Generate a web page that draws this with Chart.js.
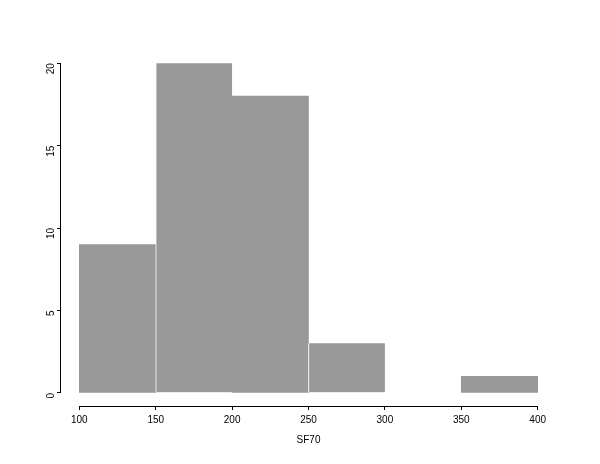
<!DOCTYPE html>
<html>
<head>
<meta charset="utf-8">
<script src="https://cdn.jsdelivr.net/npm/chart.js@4"></script>
<style>
  html, body { margin: 0; padding: 0; background: #fff; }
  #wrap { width: 600px; height: 464px; }
</style>
</head>
<body>
<div id="wrap"><canvas id="chart" width="600" height="464"></canvas></div>
<script>
// Histogram bins (centres) and counts
const binCenters = [125, 175, 225, 275, 325, 375];
const counts = [9, 20, 18, 3, 0, 1];
const xTicks = [100, 150, 200, 250, 300, 350, 400];
const yTicks = [0, 5, 10, 15, 20];
const xTitle = "SF70";

// draws R-style axis lines that only span the first to last tick
const rAxes = {
  id: "rAxes",
  afterDraw(chart) {
    const ctx = chart.ctx;
    const x = chart.scales.x;
    const y = chart.scales.y;
    ctx.save();
    ctx.strokeStyle = "#000";
    ctx.lineWidth = 1;
    ctx.beginPath();
    ctx.moveTo(x.getPixelForValue(xTicks[0]), Math.round(x.top) + 0.5);
    ctx.lineTo(x.getPixelForValue(xTicks[xTicks.length - 1]), Math.round(x.top) + 0.5);
    const xl = Math.round(y.right) - 0.5;
    ctx.moveTo(xl, y.getPixelForValue(yTicks[0]));
    ctx.lineTo(xl, y.getPixelForValue(yTicks[yTicks.length - 1]));
    ctx.stroke();
    ctx.restore();
  }
};

new Chart(document.getElementById("chart").getContext("2d"), {
  type: "bar",
  data: {
    datasets: [{
      data: binCenters.map((c, i) => ({ x: c, y: counts[i] })),
      // empty bins draw nothing
      backgroundColor: (c) => (c.raw && c.raw.y === 0) ? "rgba(0,0,0,0)" : "#999999",
      borderColor: "#ffffff",
      // thin white separators only where they show in the original
      borderWidth: (c) => ({ left: (c.dataIndex === 1 || c.dataIndex === 3) ? 1 : 0, top: 0, right: 0, bottom: 0 }),
      borderSkipped: false,
      barPercentage: 1,
      categoryPercentage: 1
    }]
  },
  options: {
    responsive: false,
    animation: false,
    layout: { padding: { left: 0, top: 50, right: 44, bottom: 18 } },
    plugins: { legend: { display: false }, tooltip: { enabled: false } },
    scales: {
      x: {
        type: "linear",
        min: 88,
        max: 412,
        offset: false,
        afterBuildTicks: (s) => { s.ticks = xTicks.map(v => ({ value: v })); },
        afterFit: (s) => { s.height = 40; },
        border: { display: false },
        grid: { offset: false, drawOnChartArea: false, color: "#000", tickLength: 4 },
        ticks: {
          color: "#000",
          font: { family: "Liberation Sans", size: 10 },
          padding: 4,
          maxRotation: 0,
          minRotation: 0
        },
        title: {
          display: true,
          text: xTitle,
          color: "#000",
          font: { family: "Liberation Sans", size: 10 },
          padding: { top: 2, bottom: 0 }
        }
      },
      y: {
        min: -0.8,
        max: 20.8,
        afterBuildTicks: (s) => { s.ticks = yTicks.map(v => ({ value: v })); },
        afterFit: (s) => { s.width = 61; },
        border: { display: false },
        grid: { drawOnChartArea: false, color: "#000", tickLength: 4 },
        ticks: {
          color: "#000",
          font: { family: "Liberation Sans", size: 10 },
          padding: 6,
          minRotation: 90,
          maxRotation: 90
        }
      }
    }
  },
  plugins: [rAxes]
});
</script>
</body>
</html>
